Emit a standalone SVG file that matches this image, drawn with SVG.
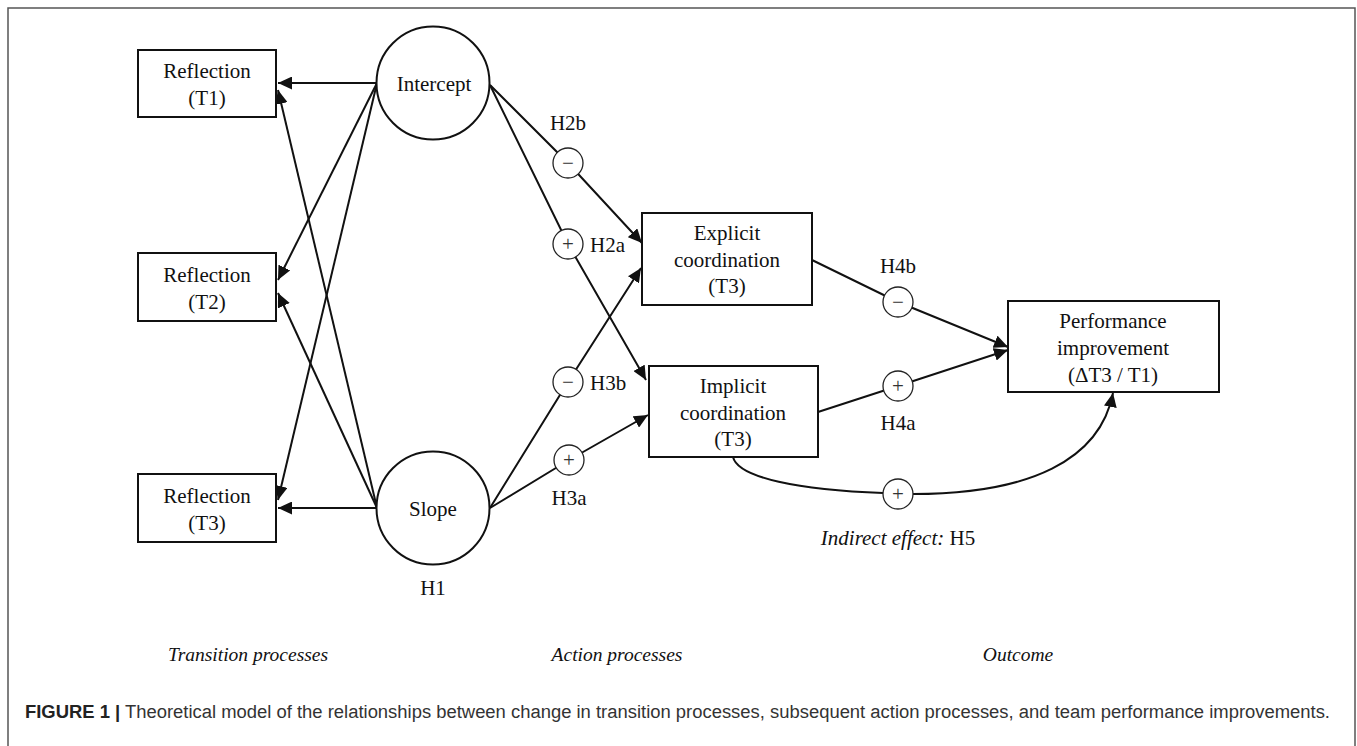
<svg xmlns="http://www.w3.org/2000/svg" width="1357" height="746" viewBox="0 0 1357 746">
<style>
.t{font-family:"Liberation Serif","Times New Roman",serif;font-size:21px;fill:#111;text-anchor:middle}
.it{font-family:"Liberation Serif","Times New Roman",serif;font-size:19.5px;font-style:italic;fill:#111;text-anchor:middle}
.box{fill:#fff;stroke:#111;stroke-width:2}
.sym{fill:#fff;stroke:#222;stroke-width:1.3}
.s{font-family:"Liberation Serif","Times New Roman",serif;font-size:21px;fill:#333;text-anchor:middle}
.c{fill:none;stroke:#111;stroke-width:2}
.a{fill:none;stroke:#111;stroke-width:2;marker-end:url(#ah)}
.cap{font-family:"Liberation Sans",Arial,sans-serif;font-size:18px;fill:#333}
</style>
<defs>
<marker id="ah" markerUnits="userSpaceOnUse" markerWidth="15" markerHeight="13" refX="14" refY="6.5" orient="auto">
<path d="M0,0 L14,6.5 L0,13 Z" fill="#111"/>
</marker>
</defs>
<rect x="8" y="8" width="1347" height="770" fill="#fff" stroke="#555" stroke-width="1.5"/>
<g id="connectors">
<line class="a" x1="377" y1="83" x2="278" y2="83"/>
<line class="a" x1="377" y1="83" x2="278" y2="280"/>
<line class="a" x1="377" y1="83" x2="278" y2="500"/>
<line class="a" x1="377" y1="508" x2="278" y2="90"/>
<line class="a" x1="377" y1="508" x2="278" y2="293"/>
<line class="a" x1="377" y1="508" x2="278" y2="508"/>
<polyline class="a" points="490,85 568,163 642,243"/>
<polyline class="a" points="490,85 568,244 646,380"/>
<polyline class="a" points="490,508 568,382 641,268"/>
<polyline class="a" points="490,508 569,460 648,415"/>
<polyline class="a" points="812,260 898,302 1008,347"/>
<polyline class="a" points="818,412 898,386 1008,350"/>
<path class="c" d="M733,457 C738,478 800,490 883,493"/>
<path class="a" d="M913,494 C1030,494 1100,460 1113,393"/>
</g>
<g id="n-ref1"><rect class="box" x="138" y="50" width="138" height="67"/><text class="t" x="207" y="78">Reflection</text><text class="t" x="207" y="105">(T1)</text></g>
<g id="n-ref2"><rect class="box" x="138" y="253" width="138" height="68"/><text class="t" x="207" y="282">Reflection</text><text class="t" x="207" y="309">(T2)</text></g>
<g id="n-ref3"><rect class="box" x="138" y="474" width="138" height="68"/><text class="t" x="207" y="503">Reflection</text><text class="t" x="207" y="530">(T3)</text></g>
<g id="n-intercept"><circle class="box" cx="433" cy="83" r="56.5"/><text class="t" x="434" y="91">Intercept</text></g>
<g id="n-slope"><circle class="box" cx="433" cy="508" r="56.5"/><text class="t" x="433" y="516">Slope</text><text class="t" x="433" y="595">H1</text></g>
<g id="n-explicit"><rect class="box" x="642" y="213" width="170" height="92"/><text class="t" x="727" y="240">Explicit</text><text class="t" x="727" y="267">coordination</text><text class="t" x="727" y="293">(T3)</text></g>
<g id="n-implicit"><rect class="box" x="649" y="366" width="169" height="91"/><text class="t" x="733" y="393">Implicit</text><text class="t" x="733" y="420">coordination</text><text class="t" x="733" y="446">(T3)</text></g>
<g id="n-perf"><rect class="box" x="1008" y="301" width="211" height="91"/><text class="t" x="1113" y="328">Performance</text><text class="t" x="1113" y="355">improvement</text><text class="t" x="1113" y="382">(ΔT3 / T1)</text></g>
<g id="h2b"><circle class="sym" cx="568" cy="163" r="15"/><text class="s" x="568" y="170">−</text><text class="t" x="568" y="130">H2b</text></g>
<g id="h2a"><circle class="sym" cx="568" cy="244" r="15"/><text class="s" x="568" y="251">+</text><text class="t" x="590" y="252" style="text-anchor:start">H2a</text></g>
<g id="h3b"><circle class="sym" cx="568" cy="382" r="15"/><text class="s" x="568" y="389">−</text><text class="t" x="590" y="390" style="text-anchor:start">H3b</text></g>
<g id="h3a"><circle class="sym" cx="569" cy="460" r="15"/><text class="s" x="569" y="467">+</text><text class="t" x="569" y="505">H3a</text></g>
<g id="h4b"><circle class="sym" cx="898" cy="302" r="15"/><text class="s" x="898" y="309">−</text><text class="t" x="898" y="273">H4b</text></g>
<g id="h4a"><circle class="sym" cx="898" cy="386" r="15"/><text class="s" x="898" y="393">+</text><text class="t" x="898" y="430">H4a</text></g>
<g id="h5"><circle class="sym" cx="898" cy="494" r="15"/><text class="s" x="898" y="501">+</text><text class="t" x="898" y="545"><tspan font-style="italic">Indirect effect:</tspan> H5</text></g>
<text class="it" x="248" y="661">Transition processes</text>
<text class="it" x="617" y="661">Action processes</text>
<text class="it" x="1018" y="661">Outcome</text>
<text class="cap" x="25" y="718" textLength="1305" lengthAdjust="spacingAndGlyphs"><tspan font-weight="bold" fill="#222">FIGURE 1 |</tspan> Theoretical model of the relationships between change in transition processes, subsequent action processes, and team performance improvements.</text>
</svg>
